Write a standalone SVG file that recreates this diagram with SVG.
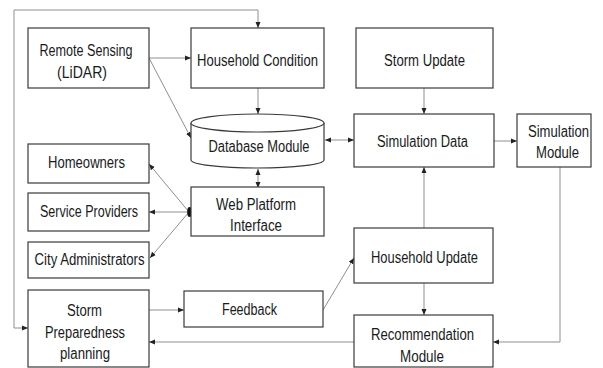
<svg xmlns="http://www.w3.org/2000/svg" width="603" height="368" viewBox="0 0 603 368">
<defs>
<style>
.box{fill:#fff;stroke:#3a3a3a;stroke-width:1.2}
.t{font-family:"Liberation Sans",Arial,sans-serif;font-size:16px;fill:#1a1a1a;text-anchor:middle}
.c{fill:none;stroke:#8f8f8f;stroke-width:1}
</style>
<marker id="a" viewBox="0 0 6 6" refX="6" refY="3" markerWidth="6" markerHeight="6" markerUnits="userSpaceOnUse" orient="auto-start-reverse">
<path d="M0,0.5 L6,3 L0,5.5 z" fill="#222"/>
</marker>
</defs>
<rect width="603" height="368" fill="#fff"/>
<g id="connectors">
<polyline class="c" points="28,328 14,328 14,10 258,10 258,28" marker-start="url(#a)" marker-end="url(#a)"/>
<line class="c" x1="149" y1="58" x2="191" y2="58" marker-end="url(#a)"/>
<line class="c" x1="149" y1="58" x2="191" y2="138" marker-end="url(#a)"/>
<line class="c" x1="258" y1="88" x2="258" y2="114" marker-end="url(#a)"/>
<line class="c" x1="325" y1="140" x2="354" y2="140" marker-start="url(#a)" marker-end="url(#a)"/>
<line class="c" x1="258" y1="169" x2="258" y2="188" marker-start="url(#a)" marker-end="url(#a)"/>
<line class="c" x1="189" y1="212" x2="149" y2="164" marker-end="url(#a)"/>
<line class="c" x1="189" y1="212" x2="149" y2="212" marker-end="url(#a)"/>
<line class="c" x1="189" y1="212" x2="150" y2="258" marker-end="url(#a)"/>
<ellipse cx="189.5" cy="212" rx="2.3" ry="5" fill="#111"/>
<line class="c" x1="424" y1="88" x2="424" y2="114" marker-end="url(#a)"/>
<line class="c" x1="494" y1="141" x2="517" y2="141" marker-end="url(#a)"/>
<line class="c" x1="424" y1="228" x2="424" y2="167" marker-end="url(#a)"/>
<polyline class="c" points="560,167 560,342 493,342" marker-end="url(#a)"/>
<line class="c" x1="424" y1="283" x2="424" y2="315" marker-end="url(#a)"/>
<line class="c" x1="354" y1="342" x2="149" y2="342" marker-end="url(#a)"/>
<line class="c" x1="149" y1="310" x2="184" y2="310" marker-end="url(#a)"/>
<line class="c" x1="323" y1="310" x2="354" y2="258" marker-end="url(#a)"/>
</g>
<g id="remote-sensing">
<rect class="box" x="28" y="28" width="121" height="60"/>
<text class="t" x="86" y="56" textLength="93" lengthAdjust="spacingAndGlyphs">Remote Sensing</text>
<text class="t" x="82" y="78" textLength="50" lengthAdjust="spacingAndGlyphs">(LiDAR)</text>
</g>
<g id="household-condition">
<rect class="box" x="191" y="28" width="133" height="60"/>
<text class="t" x="257.5" y="66" textLength="121" lengthAdjust="spacingAndGlyphs">Household Condition</text>
</g>
<g id="storm-update">
<rect class="box" x="356" y="28" width="137" height="60"/>
<text class="t" x="424.5" y="66" textLength="81" lengthAdjust="spacingAndGlyphs">Storm Update</text>
</g>
<g id="database-module">
<path class="box" d="M191,123 L191,160 A66.5,8 0 0 0 324,160 L324,123"/>
<ellipse class="box" cx="257.5" cy="123" rx="66.5" ry="9"/>
<text class="t" x="259" y="152" textLength="101" lengthAdjust="spacingAndGlyphs">Database Module</text>
</g>
<g id="simulation-data">
<rect class="box" x="354" y="114" width="140" height="53"/>
<text class="t" x="422.5" y="147" textLength="91" lengthAdjust="spacingAndGlyphs">Simulation Data</text>
</g>
<g id="simulation-module">
<rect class="box" x="517" y="114" width="74" height="53"/>
<text class="t" x="558.5" y="137" textLength="61" lengthAdjust="spacingAndGlyphs">Simulation</text>
<text class="t" x="557.5" y="158" textLength="43" lengthAdjust="spacingAndGlyphs">Module</text>
</g>
<g id="homeowners">
<rect class="box" x="28" y="144" width="121" height="39"/>
<text class="t" x="86.5" y="168" textLength="77" lengthAdjust="spacingAndGlyphs">Homeowners</text>
</g>
<g id="service-providers">
<rect class="box" x="28" y="193" width="121" height="38"/>
<text class="t" x="89" y="217" textLength="98" lengthAdjust="spacingAndGlyphs">Service Providers</text>
</g>
<g id="city-administrators">
<rect class="box" x="28" y="242" width="121" height="36"/>
<text class="t" x="89.5" y="265" textLength="110" lengthAdjust="spacingAndGlyphs">City Administrators</text>
</g>
<g id="web-platform-interface">
<rect class="box" x="191" y="187" width="133" height="49"/>
<text class="t" x="256" y="210" textLength="80" lengthAdjust="spacingAndGlyphs">Web Platform</text>
<text class="t" x="256" y="231" textLength="52" lengthAdjust="spacingAndGlyphs">Interface</text>
</g>
<g id="household-update">
<rect class="box" x="354" y="228" width="139" height="55"/>
<text class="t" x="424.5" y="263" textLength="107" lengthAdjust="spacingAndGlyphs">Household Update</text>
</g>
<g id="feedback">
<rect class="box" x="184" y="291" width="139" height="36"/>
<text class="t" x="249.5" y="315" textLength="55" lengthAdjust="spacingAndGlyphs">Feedback</text>
</g>
<g id="storm-preparedness">
<rect class="box" x="28" y="290" width="121" height="77"/>
<text class="t" x="84.5" y="316" textLength="35" lengthAdjust="spacingAndGlyphs">Storm</text>
<text class="t" x="85" y="338" textLength="80" lengthAdjust="spacingAndGlyphs">Preparedness</text>
<text class="t" x="85" y="359" textLength="50" lengthAdjust="spacingAndGlyphs">planning</text>
</g>
<g id="recommendation-module">
<rect class="box" x="354" y="315" width="139" height="52"/>
<text class="t" x="422.5" y="340" textLength="103" lengthAdjust="spacingAndGlyphs">Recommendation</text>
<text class="t" x="422" y="362" textLength="44" lengthAdjust="spacingAndGlyphs">Module</text>
</g>
</svg>
